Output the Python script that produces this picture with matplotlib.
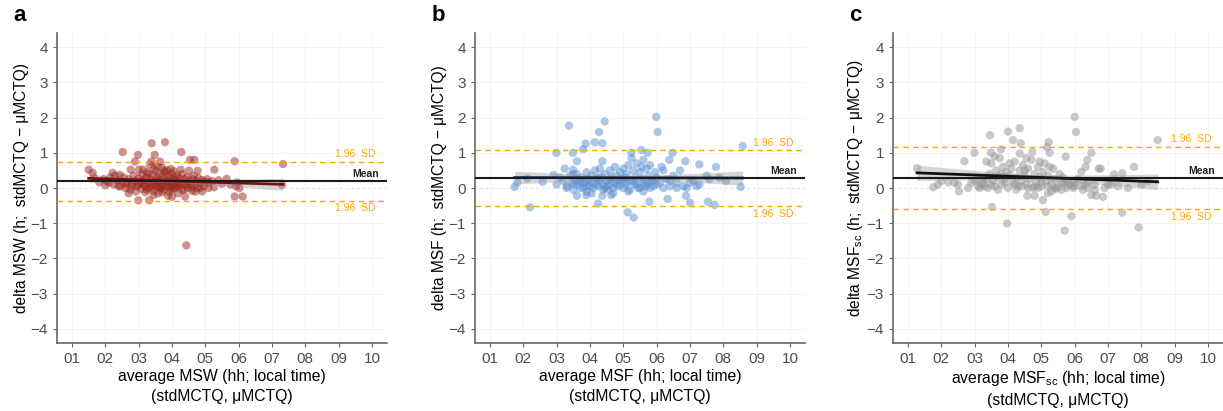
import numpy as np
import matplotlib.pyplot as plt

plt.rcParams['font.family'] = ['Liberation Sans', 'DejaVu Sans']

# ---- data (hours) ----
x_a = [3.39, 3.79, 2.52, 2.98, 3.48, 4.28, 2.89, 3.38, 3.64, 4.54, 4.67, 5.88, 7.33, 1.50, 1.62, 1.67, 1.82,
       2.22, 2.44, 2.76, 3.01, 3.13, 3.34, 3.56, 3.51, 3.76, 3.96, 4.26, 4.51, 4.77, 5.27, 5.64, 5.95, 6.02,
       5.88, 6.12, 7.30, 2.99, 3.32, 3.88, 4.39, 4.43, 5.26,
       2.05, 2.15, 2.25, 2.35, 2.40, 2.50, 2.55, 2.60, 2.65, 2.70, 2.75, 2.80, 2.85, 2.90, 2.92, 2.95, 3.00,
       3.05, 3.08, 3.10, 3.15, 3.18, 3.20, 3.22, 3.25, 3.28, 3.30, 3.35, 3.40, 3.42, 3.45, 3.50, 3.52, 3.55,
       3.58, 3.60, 3.62, 3.65, 3.68, 3.70, 3.72, 3.75, 3.78, 3.80, 3.82, 3.85, 3.88, 3.90, 3.92, 3.95, 3.98,
       4.00, 4.02, 4.05, 4.08, 4.10, 4.12, 4.15, 4.18, 4.20, 4.22, 4.25, 4.30, 4.32, 4.35, 4.38, 4.40, 4.45,
       4.48, 4.50, 4.55, 4.60, 4.62, 4.65, 4.70, 4.72, 4.75, 4.80, 4.85, 4.90, 4.95, 5.00, 5.05, 5.10, 5.20,
       5.40, 5.50, 5.75, 5.92, 2.30, 2.10, 1.95, 2.00, 3.45, 3.70, 3.85, 4.05, 3.30, 3.60, 3.95, 4.15,
       2.60, 2.80, 3.00, 3.10, 3.20, 3.30, 3.40, 3.50, 3.55, 3.65, 3.75, 3.85, 3.95, 4.05, 4.10, 4.20, 4.30,
       4.45, 4.60, 4.70, 4.85, 3.25, 3.45, 3.70, 4.00, 2.70, 2.45, 4.90, 5.10]
y_a = [1.27, 1.30, 1.02, 0.94, 0.94, 1.02, 0.75, 0.75, 0.75, 0.80, 0.80, 0.76, 0.68, 0.52, 0.43, 0.29, 0.16,
       0.43, 0.37, 0.52, 0.52, 0.52, 0.66, 0.63, 0.49, 0.49, 0.54, 0.52, 0.49, 0.49, 0.52, 0.26, 0.16, 0.00,
       -0.24, -0.24, 0.09, -0.35, -0.35, -0.22, -0.24, -1.63, 0.02,
       0.20, 0.30, 0.10, 0.22, 0.05, 0.18, 0.30, 0.00, 0.15, 0.25, -0.05, 0.12, 0.35, 0.20, -0.10, 0.05, 0.28,
       0.15, -0.02, 0.38, 0.22, 0.08, -0.12, 0.30, 0.45, 0.15, 0.00, 0.25, 0.10, 0.35, -0.08, 0.20, 0.05, 0.30,
       -0.15, 0.15, 0.40, 0.22, 0.02, 0.32, 0.12, -0.05, 0.25, 0.45, 0.18, 0.05, 0.35, 0.20, -0.10, 0.28, 0.10,
       0.40, 0.15, -0.02, 0.30, 0.22, 0.05, 0.35, -0.15, 0.18, 0.28, 0.08, 0.40, 0.15, -0.05, 0.25, 0.10, 0.30,
       0.00, 0.20, 0.12, -0.08, 0.25, 0.35, 0.10, 0.20, 0.00, 0.28, 0.15, 0.22, 0.05, 0.18, 0.25, 0.15, 0.20,
       0.22, 0.12, 0.10, 0.05, 0.35, 0.15, 0.25, 0.08, 0.55, 0.58, 0.50, 0.48, 0.40, 0.05, -0.02, 0.10,
       0.12, 0.05, 0.10, 0.18, 0.05, 0.12, 0.02, 0.10, 0.18, -0.02, 0.08, 0.14, 0.02, 0.12, 0.00, 0.06, -0.05,
       0.08, 0.02, -0.10, 0.00, -0.05, -0.20, -0.12, -0.25, -0.15, 0.05, -0.10, 0.00]

x_b = [3.37, 4.44, 4.27, 5.99, 6.03, 3.87, 4.14, 4.37, 2.99, 3.49, 3.79, 5.24, 5.54, 5.73, 6.48, 8.58, 3.61,
       4.37, 6.38, 6.86, 7.28, 7.78, 3.24, 3.49, 2.20, 3.61, 3.89, 4.24, 4.37, 4.64, 5.13, 5.31, 5.78, 6.33,
       6.88, 7.00, 7.54, 7.74, 1.74, 1.82, 2.12, 2.58, 2.91, 8.52, 8.08, 7.88, 7.58, 7.28,
       3.00, 3.10, 3.20, 3.30, 3.40, 3.45, 3.50, 3.55, 3.60, 3.65, 3.70, 3.75, 3.80, 3.85, 3.90, 3.95, 4.00,
       4.05, 4.10, 4.15, 4.20, 4.25, 4.30, 4.35, 4.40, 4.45, 4.50, 4.55, 4.60, 4.65, 4.70, 4.75, 4.80, 4.85,
       4.90, 4.95, 5.00, 5.05, 5.10, 5.15, 5.20, 5.25, 5.30, 5.35, 5.40, 5.45, 5.50, 5.55, 5.60, 5.65, 5.70,
       5.75, 5.80, 5.85, 5.90, 5.95, 6.00, 6.10, 6.20, 6.30, 6.40, 6.50, 6.60, 6.70, 6.80, 7.00, 7.20, 7.50,
       4.05, 4.45, 4.85, 5.05, 5.55, 3.70, 4.25, 4.60, 5.35, 5.75, 6.15, 5.15, 3.50,
       3.50, 3.60, 3.80, 3.90, 4.00, 4.10, 4.20, 4.30, 4.40, 4.50, 4.60, 4.70, 4.80, 4.90, 5.00, 5.10, 5.20,
       5.30, 5.40, 5.50, 5.60, 5.70, 5.80, 5.90, 6.00, 6.20, 6.40, 6.60, 3.30, 3.90, 4.70, 5.60, 6.90, 7.10]
y_b = [1.77, 1.89, 1.59, 2.02, 1.59, 1.26, 1.30, 1.27, 1.00, 1.00, 1.10, 1.00, 1.08, 1.00, 1.00, 1.19, 0.76,
       0.76, 0.80, 0.76, 0.67, 0.60, 0.55, 0.52, -0.55, -0.22, -0.20, -0.44, -0.22, -0.20, -0.69, -0.84, -0.39,
       -0.31, -0.22, -0.42, -0.39, -0.48, 0.03, 0.16, 0.27, 0.18, 0.37, 0.03, 0.20, 0.30, 0.25, 0.10,
       0.10, 0.30, 0.20, 0.05, 0.35, 0.15, -0.05, 0.25, 0.40, 0.10, 0.20, 0.30, 0.00, 0.15, 0.45, 0.25, 0.05,
       0.35, 0.15, 0.50, 0.25, 0.05, 0.55, 0.30, 0.10, 0.40, 0.20, -0.05, 0.50, 0.30, 0.15, 0.60, 0.35, 0.05,
       0.45, 0.25, 0.55, 0.10, 0.40, 0.65, 0.20, 0.85, 0.50, 0.30, 0.70, 0.00, 0.45, 0.25, 0.80, 0.10, 0.55,
       0.35, 0.65, 0.20, 0.05, 0.45, 0.30, 0.15, 0.50, 0.25, 0.05, 0.35, 0.15, 0.50, 0.05, 0.15, 0.05, 0.35,
       -0.15, 0.00, 0.20, 0.30, 0.60, 0.00, 0.30, 0.10, 0.10, 0.15, 0.60, -0.10, 0.40,
       0.10, 0.20, 0.15, 0.05, 0.20, 0.00, 0.10, 0.20, -0.05, 0.05, 0.25, 0.00, 0.10, 0.20, 0.00, 0.15, -0.05,
       0.20, 0.10, 0.00, 0.15, 0.05, 0.00, 0.20, 0.10, 0.00, 0.20, 0.00, 0.00, -0.10, -0.15, -0.10, 0.00, 0.20]

x_c = [6.00, 6.04, 4.35, 4.00, 3.46, 4.15, 4.38, 5.22, 5.17, 8.49, 2.99, 3.49, 3.79, 4.35, 4.73, 5.25, 5.73,
       6.50, 2.69, 6.38, 6.33, 6.20, 6.72, 6.78, 7.18, 7.43, 7.78, 1.27, 1.76, 2.21, 2.53, 3.52, 3.97, 5.13,
       5.90, 5.70, 7.43, 7.92, 4.58, 4.80, 5.05, 5.20, 6.50, 6.65, 6.85,
       2.00, 2.50, 2.90, 3.00, 3.10, 3.20, 3.25, 3.30, 3.35, 3.40, 3.45, 3.50, 3.55, 3.60, 3.65, 3.70, 3.75,
       3.80, 3.85, 3.90, 3.95, 4.00, 4.05, 4.10, 4.15, 4.20, 4.25, 4.30, 4.35, 4.40, 4.45, 4.50, 4.55, 4.60,
       4.65, 4.70, 4.75, 4.80, 4.85, 4.90, 4.95, 5.00, 5.05, 5.10, 5.15, 5.20, 5.30, 5.35, 5.40, 5.50, 5.55,
       5.60, 5.65, 5.75, 5.80, 5.90, 6.00, 6.10, 6.30, 6.40, 6.60, 7.00, 7.30, 8.20, 3.60, 4.55, 4.05, 4.95,
       3.35, 2.80, 3.15, 4.25, 4.90, 5.45, 5.95, 6.25, 3.80, 4.50, 5.25,
       5.00, 5.20, 5.40, 5.60, 5.80, 6.00, 6.20, 6.40, 6.60, 6.90, 7.10, 7.60, 8.00, 4.60, 4.40, 4.20, 3.90,
       3.70, 3.50, 3.30, 3.10, 2.40, 1.90, 4.80, 5.30, 5.70]
y_c = [2.02, 1.59, 1.70, 1.60, 1.50, 1.36, 1.27, 1.30, 1.16, 1.36, 1.00, 1.00, 1.10, 0.98, 1.02, 1.00, 0.89,
       1.00, 0.76, 0.80, 0.60, 0.46, 0.55, 0.55, 0.39, 0.42, 0.60, 0.56, 0.02, 0.16, -0.10, -0.54, -1.01, -0.68,
       -0.80, -1.21, -0.70, -1.12, -0.22, -0.22, -0.34, -0.15, -0.20, -0.22, -0.25,
       0.20, 0.10, 0.15, 0.20, 0.05, 0.10, 0.15, 0.30, 0.25, 0.00, 0.40, 0.70, 0.20, 0.05, 0.50, 0.30, 0.85,
       0.10, 0.60, 0.25, 0.45, 0.00, 0.35, 0.55, 0.15, 0.75, 0.30, 0.05, 0.50, 0.20, 0.65, 0.35, 0.10, 0.55,
       0.25, 0.80, 0.00, 0.40, 0.15, 0.60, 0.30, 0.05, 0.45, 0.70, 0.20, 0.35, 0.10, 0.55, 0.25, 0.05, 0.40,
       0.15, 0.30, 0.00, 0.20, 0.10, 0.05, 0.25, 0.10, 0.00, -0.05, 0.10, 0.05, 0.20, 0.90, 0.85, 0.70, 0.75,
       0.75, 0.00, 0.00, -0.05, 0.00, -0.02, 0.00, -0.05, 0.40, 0.50, 0.60,
       0.15, 0.05, 0.00, -0.05, 0.10, 0.15, 0.05, 0.15, 0.10, 0.00, 0.10, 0.00, 0.10, 0.00, 0.05, 0.10, 0.15,
       -0.05, 0.10, 0.05, 0.25, 0.15, 0.10, 0.05, -0.10, 0.15]

# mean and limits of agreement (1.96 SD)
means = [0.19, 0.28, 0.28]
upper = [0.75, 1.08, 1.17]
lower = [-0.36, -0.51, -0.59]

letters = ['a', 'b', 'c']
names = ['MSW', 'MSF', r'MSF$_{\mathregular{sc}}$']
pt_colors = ['#9C2A20', '#5B8FD2', '#959595']
fit_colors = ['#7A1010', '#1E3A6E', '#111111']
xs = [x_a, x_b, x_c]
ys = [y_a, y_b, y_c]

fig = plt.figure(figsize=(12.23, 4.11), dpi=100)
lefts = [57, 475, 893]
for i in range(3):
    ax = fig.add_axes([lefts[i] / 1223, 1 - 343 / 411, 330 / 1223, 310 / 411])
    x = np.array(xs[i])
    y = np.array(ys[i])

    ax.grid(True, color='#f3f3f3', lw=0.6, zorder=0)
    ax.axhline(0, color='#bbbbbb', ls=(0, (1, 3)), lw=1, zorder=1)

    ax.scatter(x, y, s=36, color=pt_colors[i], alpha=0.5, edgecolors='none', zorder=2)

    # linear fit with 95% band
    b1, b0 = np.polyfit(x, y, 1)
    xf = np.linspace(x.min(), x.max(), 80)
    yf = b0 + b1 * xf
    n = len(x)
    resid = y - (b0 + b1 * x)
    s = np.sqrt(np.sum(resid ** 2) / (n - 2))
    se = s * np.sqrt(1 / n + (xf - x.mean()) ** 2 / np.sum((x - x.mean()) ** 2))
    ax.fill_between(xf, yf - 1.97 * se, yf + 1.97 * se, color='#999999', alpha=0.4, lw=0, zorder=3)
    ax.plot(xf, yf, color=fit_colors[i], lw=2, zorder=4)

    ax.axhline(means[i], color='#1a1a1a', lw=1.5, zorder=5)
    ax.axhline(upper[i], color='#FFA500', ls=(0, (4, 3)), lw=1, zorder=5)
    ax.axhline(lower[i], color='#FFA500', ls=(0, (4, 3)), lw=1, zorder=5)
    ax.text(10.2, means[i] + 0.2, 'Mean', ha='right', va='center', fontsize=7.5,
            fontweight='bold', color='#222222')
    ax.text(10.1, upper[i] + 0.21, '1.96  SD', ha='right', va='center', fontsize=7.5, color='#FFA500')
    ax.text(10.1, lower[i] - 0.22, '1.96  SD', ha='right', va='center', fontsize=7.5, color='#FFA500')

    ax.set_xlim(0.55, 10.45)
    ax.set_ylim(-4.4, 4.4)
    ax.set_xticks(range(1, 11))
    ax.set_xticklabels(['%02d' % k for k in range(1, 11)])
    ax.set_yticks(range(-4, 5))
    ax.set_yticklabels([str(k).replace('-', '\u2212') for k in range(-4, 5)])
    ax.tick_params(colors='#666666', labelcolor='#4d4d4d', labelsize=11, length=3, width=0.8)
    for sp in ['top', 'right']:
        ax.spines[sp].set_visible(False)
    for sp in ['left', 'bottom']:
        ax.spines[sp].set_color('#666666')
        ax.spines[sp].set_linewidth(1.2)

    ax.set_xlabel('average ' + names[i] + ' (hh; local time)\n(stdMCTQ, \u03bcMCTQ)',
                  fontsize=11.3, linespacing=1.45, labelpad=2)
    ax.set_ylabel('delta ' + names[i] + ' (h;  stdMCTQ \u2212 \u03bcMCTQ)', fontsize=11.2, labelpad=1)
    ax.text(-0.133, 1.058, letters[i], transform=ax.transAxes, fontsize=16, fontweight='bold',
            ha='left', va='center')

fig.savefig('out.png', dpi=100)
